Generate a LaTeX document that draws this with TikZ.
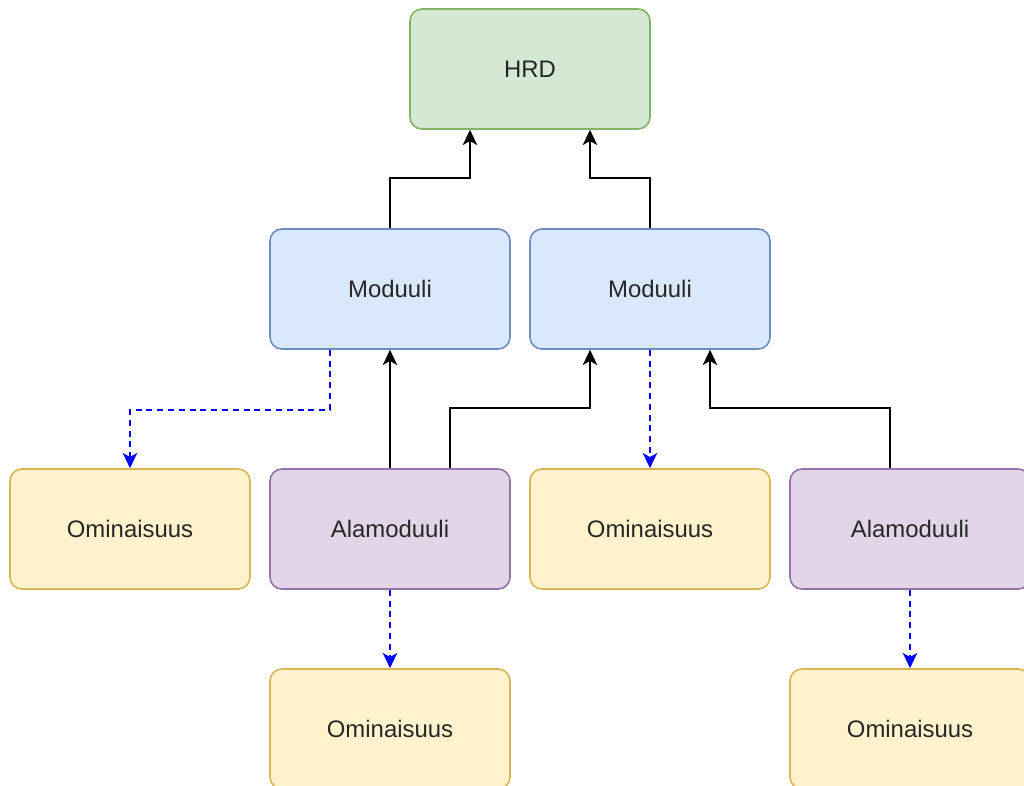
\documentclass[tikz,border=0pt]{standalone}
\usepackage{fontspec}
\setmainfont{Liberation Sans}
\usetikzlibrary{calc}
\usetikzlibrary{arrows.meta}
\definecolor{hrdfill}{HTML}{D5E8D4}
\definecolor{hrdline}{HTML}{82B366}
\definecolor{modfill}{HTML}{DAE8FC}
\definecolor{modline}{HTML}{6C8EBF}
\definecolor{subfill}{HTML}{E1D5E7}
\definecolor{subline}{HTML}{9673A6}
\definecolor{featfill}{HTML}{FFF2CC}
\definecolor{featline}{HTML}{D6B656}
\tikzset{
	block/.style={rounded corners=0.3cm, minimum width=6cm, minimum height=3cm,
		line width=0.04cm, text=black!85, font=\fontsize{17}{20}\selectfont},
	hrdbox/.style={block, draw=hrdline, fill=hrdfill},
	modbox/.style={block, draw=modline, fill=modfill},
	subbox/.style={block, draw=subline, fill=subfill},
	featbox/.style={block, draw=featline, fill=featfill},
	uplink/.style={line width=0.05cm, -{Stealth[length=0.38cm,width=0.36cm,inset=0.1cm]}},
	featlink/.style={line width=0.05cm, blue, dash pattern=on 0.15cm off 0.12cm,
		-{Stealth[length=0.38cm,width=0.36cm,inset=0.1cm]}}
}

\begin{document}
\begin{tikzpicture}[x=0.025cm, y=-0.025cm]
	% page: 1024 x 785 px, y grows downwards
	\useasboundingbox (0, 0) rectangle (1024, 785);
	\clip (0, 0) rectangle (1024, 785);
	% boxes
	\node[hrdbox] (hrd) at (530, 69) {HRD};
	\node[modbox] (m1) at (390, 289) {Moduuli};
	\node[modbox] (m2) at (650, 289) {Moduuli};
	\node[featbox] (o1) at (130, 529) {Ominaisuus};
	\node[subbox] (a1) at (390, 529) {Alamoduuli};
	\node[featbox] (o2) at (650, 529) {Ominaisuus};
	\node[subbox] (a2) at (910, 529) {Alamoduuli};
	\node[featbox] (o3) at (390, 729) {Ominaisuus};
	\node[featbox] (o4) at (910, 729) {Ominaisuus};
	
	% modules up to HRD
	\draw[uplink] (m1.north) -- ++(0, -50) -| ($(hrd.south)+(-60, 0)$);
	\draw[uplink] (m2.north) -- ++(0, -50) -| ($(hrd.south)+(60, 0)$);
	
	% submodules up to modules
	\draw[uplink] (a1.north) -- (m1.south);
	\draw[uplink] ($(a1.north)+(60, 0)$) -- ++(0, -60) -| ($(m2.south)+(-60, 0)$);
	\draw[uplink] ($(a2.north)+(-20, 0)$) -- ++(0, -60) -| ($(m2.south)+(60, 0)$);
	
	% features
	\draw[featlink] ($(m1.south)+(-60, 0)$) -- ++(0, 60) -| (o1.north);
	\draw[featlink] (m2.south) -- (o2.north);
	\draw[featlink] (a1.south) -- (o3.north);
	\draw[featlink] (a2.south) -- (o4.north);
\end{tikzpicture}
\end{document}
